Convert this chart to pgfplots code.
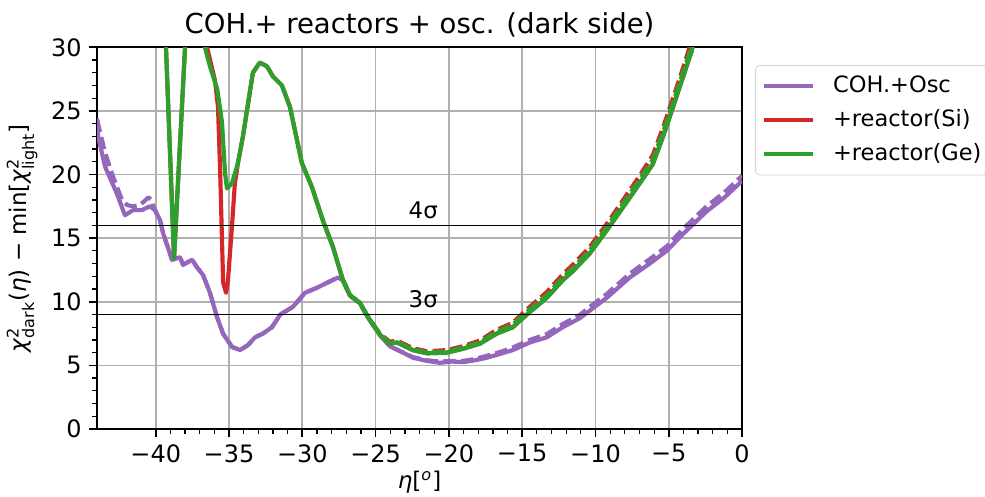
\documentclass[border=0pt]{standalone}
\usepackage{pgfplots}
\pgfplotsset{compat=1.18}
\usepackage{fontspec}
\setmainfont{DejaVu Sans}
\definecolor{cpurple}{HTML}{9467BD}
\definecolor{cred}{HTML}{D62728}
\definecolor{cgreen}{HTML}{2CA02C}
\definecolor{cgrid}{HTML}{B0B0B0}
\newcommand{\sm}[1]{\mbox{\fontsize{7.7}{8}\selectfont #1}}
\begin{document}
\begin{tikzpicture}[font=\fontsize{11}{13.2}\selectfont]
\useasboundingbox (0,0) rectangle (472.8pt,238.1pt);
\begin{axis}[
  name=ax,
  at={(46.6pt,32.2pt)}, anchor=south west,
  scale only axis, width=309.6pt, height=183.2pt,
  xmin=-44, xmax=0, ymin=0, ymax=30,
  xtick={-40,-35,-30,-25,-20,-15,-10,-5,0},
  xticklabels={−40,−35,−30,−25,−20,−15,−10,−5,0},
  ytick={0,5,10,15,20,25,30},
  yticklabels={0,5,10,15,20,25,30},
  minor x tick num=4, minor y tick num=4,
  xtick pos=left, ytick pos=left, tick align=outside,
  major tick length=3.9pt, minor tick length=2.3pt,
  every major tick/.append style={line width=0.8pt, black},
  every minor tick/.append style={line width=0.6pt, black},
  tick label style={font=\fontsize{11.5}{13.8}\selectfont},
  axis line style={line width=0.8pt},
  grid=major,
  major grid style={line width=0.8pt, cgrid},
  xlabel={\mbox{\itshape η}[\textsuperscript{\itshape o}]},
  xlabel style={at={(axis description cs:0.5,0)}, anchor=center, yshift=-25.5pt},
  ylabel={$\mbox{\itshape χ}^{\sm{2}}_{\sm{dark}}$(\mbox{\itshape η}) − min[$\mbox{\itshape χ}^{\sm{2}}_{\sm{light}}$]},
  ylabel style={at={(axis description cs:-0.1163,0.5)}, anchor=center, rotate=0},
  legend style={at={(1.020,0.9536)}, anchor=north west, draw=gray!35, rounded corners=2pt,
    fill=white, inner xsep=3pt, inner ysep=3.3pt, row sep=2.9pt, column sep=0pt,
    font=\fontsize{10.8}{13}\selectfont,
    nodes={inner xsep=0pt, inner ysep=1.5pt, text height=8.2pt, text depth=2.2pt}},
  legend image post style={xscale=1.388},
  legend cell align=left,
  every axis plot/.append style={line width=2pt, line join=round},
]
% purple solid
\addplot[cpurple] coordinates {
(-44,24.4) (-43.93,23.0) (-43.45,20.6) (-42.65,18.5) (-42.1,16.8) (-41.55,17.2) (-40.95,17.2)
(-40.4,17.5) (-40.05,17.2) (-39.7,16.4) (-39.5,15.4) (-38.89,13.3) (-38.34,13.5) (-38.14,12.9)
(-37.52,13.3) (-37.18,12.7) (-36.77,12.1) (-36.3,10.7) (-35.82,8.8) (-35.41,7.5) (-34.8,6.45)
(-34.25,6.2) (-33.7,6.6) (-33.23,7.2) (-32.68,7.5) (-32.07,8.0) (-31.5,9.0) (-30.64,9.6)
(-29.82,10.7) (-29.0,11.1) (-28.12,11.6) (-27.57,11.9) (-27.23,11.7) (-26.75,10.5) (-26.07,9.9)
(-25.53,8.8) (-24.71,7.4) (-24.03,6.5) (-23.3,6.1) (-22.46,5.6) (-21.5,5.35) (-20.62,5.2)
(-19.8,5.3) (-19.05,5.25) (-18.2,5.4) (-17.42,5.6) (-16.5,5.9) (-15.64,6.2) (-14.48,6.8)
(-13.33,7.2) (-12.23,8.0) (-11.08,8.7) (-10.39,9.3) (-9.24,10.3) (-7.67,11.9) (-6.3,13.0)
(-5.14,14.0) (-4.05,15.3) (-2.42,17.1) (-1.2,18.2) (0,19.5)
};
\addlegendentry{\hspace{8.6pt}COH.+Osc}
% purple dashed
\addplot[cpurple, dash pattern=on 6pt off 2.5pt, forget plot] coordinates {
(-44,24.3) (-43.45,21.7) (-42.9,19.8) (-42.3,18.0) (-41.95,17.6) (-41.55,17.5) (-41.07,17.6)
(-40.5,18.2) (-40.25,18.0) (-40.18,17.5) (-39.7,16.4) (-39.5,15.4) (-38.89,13.3) (-38.34,13.5)
(-38.14,12.9) (-37.52,13.3) (-37.18,12.7) (-36.77,12.1) (-36.3,10.7) (-35.82,8.8) (-35.41,7.5)
(-34.8,6.45) (-34.25,6.2) (-33.7,6.6) (-33.23,7.2) (-32.68,7.5) (-32.07,8.0) (-31.5,9.0)
(-30.64,9.6) (-29.82,10.7) (-29.0,11.1) (-28.12,11.6) (-27.57,11.9) (-27.23,11.7) (-26.75,10.5)
(-26.07,9.9) (-25.53,8.8) (-24.71,7.4) (-24.03,6.5) (-23.3,6.1) (-22.46,5.65) (-21.5,5.4)
(-20.62,5.3) (-19.8,5.35) (-19.05,5.35) (-18.2,5.5) (-17.42,5.75) (-16.5,6.05) (-15.64,6.4)
(-14.48,7.0) (-13.33,7.45) (-12.23,8.25) (-11.08,8.95) (-10.39,9.6) (-9.24,10.6) (-7.67,12.2)
(-6.3,13.35) (-5.14,14.35) (-4.05,15.7) (-2.42,17.5) (-1.2,18.6) (0,19.9)
};
% red solid
\addplot[cred] coordinates {
(-39.45,32) (-39.3,30) (-38.75,13.4) (-38.0,30) (-37.9,32) (-37.3,34) (-36.7,32)
(-36.5,30) (-35.96,27.4) (-35.75,25.3) (-35.6,20.1) (-35.48,14.9) (-35.4,11.5) (-35.2,10.7)
(-35.07,11.7) (-34.8,15.9) (-34.6,19.3) (-34.39,20.9) (-34.05,23.0) (-33.7,25.6) (-33.37,28.0)
(-32.9,28.8) (-32.41,28.5) (-32.0,27.7) (-31.39,27.0) (-30.84,25.3) (-30.03,20.9) (-29.34,19.0)
(-28.6,16.4) (-27.91,14.3) (-27.23,11.7) (-26.75,10.5) (-26.07,9.9) (-25.53,8.8) (-24.71,7.4)
(-24.03,6.7) (-23.55,6.8) (-22.46,6.2) (-21.5,5.95) (-20.14,6.0) (-19.05,6.3) (-17.89,6.7)
(-16.73,7.5) (-15.64,8.0) (-14.48,9.2) (-13.33,10.3) (-12.23,11.7) (-11.55,12.4) (-10.39,13.8)
(-9.24,15.6) (-8.14,17.4) (-6.99,19.3) (-6.1,20.8) (-5.42,22.9) (-4.74,25.2) (-4.05,27.6)
(-3.44,29.7) (-3.2,31)
};
\addlegendentry{\hspace{8.6pt}+reactor(Si)}
% red dashed
\addplot[cred, dash pattern=on 6pt off 2.5pt, forget plot] coordinates {
(-27.23,11.7) (-26.75,10.5) (-26.07,9.9) (-25.53,8.8) (-24.71,7.5)
(-24.03,6.85) (-23.55,6.95) (-22.46,6.35) (-21.5,6.1) (-20.14,6.2) (-19.05,6.5) (-17.89,6.95)
(-16.73,7.8) (-15.64,8.35) (-14.48,9.6) (-13.33,10.75) (-12.23,12.15) (-11.55,12.9) (-10.39,14.3)
(-9.24,16.1) (-8.14,17.95) (-6.99,19.9) (-6.1,21.5) (-5.42,23.6) (-4.74,25.9) (-4.05,28.3)
(-3.5,30.3) (-3.3,31)
};
% green solid
\addplot[cgreen] coordinates {
(-39.45,32) (-39.3,30) (-38.75,13.4) (-38.0,30) (-37.9,32) (-37.3,34) (-36.8,32)
(-36.64,30) (-36.3,28.5) (-35.8,26.7) (-35.48,24.1) (-35.27,20.1) (-35.14,18.9) (-34.8,19.3)
(-34.39,20.9) (-34.05,23.0) (-33.7,25.6) (-33.37,28.0) (-32.9,28.8) (-32.41,28.5) (-32.0,27.7)
(-31.39,27.0) (-30.84,25.3) (-30.03,20.9) (-29.34,19.0) (-28.6,16.4) (-27.91,14.3) (-27.23,11.7)
(-26.75,10.5) (-26.07,9.9) (-25.53,8.8) (-24.71,7.4) (-24.03,6.7) (-23.55,6.8) (-22.46,6.2)
(-21.5,5.95) (-20.14,6.0) (-19.05,6.3) (-17.89,6.7) (-16.73,7.5) (-15.64,8.0) (-14.48,9.2)
(-13.33,10.3) (-12.23,11.7) (-11.55,12.4) (-10.39,13.8) (-9.24,15.6) (-8.14,17.4) (-6.99,19.3)
(-6.1,20.8) (-5.42,22.9) (-4.74,25.2) (-4.05,27.6) (-3.44,29.7) (-3.2,31)
};
\addlegendentry{\hspace{8.6pt}+reactor(Ge)}
% green dashed
\addplot[cgreen, dash pattern=on 6pt off 2.5pt, forget plot] coordinates {
(-27.23,11.7) (-26.75,10.5) (-26.07,9.9) (-25.53,8.8) (-24.71,7.45)
(-24.03,6.75) (-23.55,6.85) (-22.46,6.25) (-21.5,6.0) (-20.14,6.08) (-19.05,6.4) (-17.89,6.8)
(-16.73,7.65) (-15.64,8.2) (-14.48,9.4) (-13.33,10.5) (-12.23,11.9) (-11.55,12.65) (-10.39,14.05)
(-9.24,15.85) (-8.14,17.7) (-6.99,19.6) (-6.1,21.15) (-5.42,23.25) (-4.74,25.55) (-4.05,27.95)
(-3.47,30.0) (-3.25,31)
};
% sigma lines
\addplot[black, line width=0.8pt, forget plot] coordinates {(-44,16) (0,16)};
\addplot[black, line width=0.8pt, forget plot] coordinates {(-44,9) (0,9)};
\node[anchor=base, inner sep=0pt] at (axis cs:-21.75,16.56) {4σ};
\node[anchor=base, inner sep=0pt] at (axis cs:-21.75,9.54) {3σ};
\end{axis}
\node[anchor=base, inner sep=0pt, font=\fontsize{13.2}{15.8}\selectfont] at ([yshift=6.4pt]ax.north) {COH.+ reactors + osc. (dark side)};
\end{tikzpicture}
\end{document}
